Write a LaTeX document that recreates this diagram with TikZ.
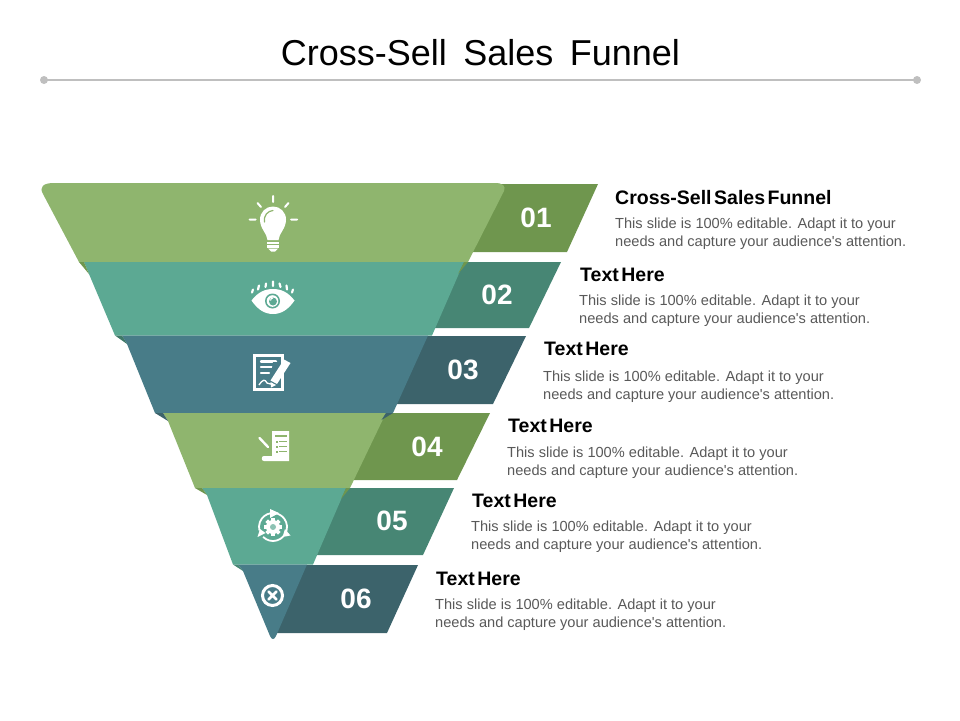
\documentclass[tikz,border=0pt]{standalone}
\usepackage{fontspec}
\setmainfont{Liberation Sans}[Ligatures=TeXOff]
\definecolor{bandA}{HTML}{8FB56E}
\definecolor{darkA}{HTML}{6F964E}
\definecolor{bandB}{HTML}{5CA993}
\definecolor{darkB}{HTML}{478674}
\definecolor{bandC}{HTML}{487C88}
\definecolor{darkC}{HTML}{3C636B}
\definecolor{bodygray}{HTML}{595959}
\definecolor{rulegray}{HTML}{BFBFBF}
\tikzset{
  titletext/.style={font=\fontsize{36}{40}\selectfont,text=black,inner sep=0pt},
  headtext/.style={font=\fontsize{19.5}{20}\selectfont\bfseries,text=black,anchor=west,inner sep=0pt},
  bodytext/.style={font=\fontsize{14.6}{18}\selectfont,text=bodygray,anchor=west,align=left,inner sep=0pt},
  numtext/.style={font=\fontsize{28}{30}\selectfont\bfseries,text=white,inner sep=0pt},
  iconline/.style={draw=white,line width=2pt,line cap=round,fill=none},
}
\newcommand{\bodycopy}{This slide is 100\% editable.\hspace{5.5pt}Adapt it to your\\needs and capture your audience's attention.}
\newcommand{\tinygap}{\hspace{2.5pt}}
\newcommand{\titlegap}{\hspace{16.5pt}}
\begin{document}
\begin{tikzpicture}[x=1pt,y=-1pt]
\useasboundingbox (0,0) rectangle (960,720);
% title and rule
\node[titletext] (title) at (480.5,53) {Cross-Sell\titlegap Sales\titlegap Funnel};
\fill[rulegray] (44,80) circle (4);
\fill[rulegray] (917,80) circle (4);
\coordinate (ruleL) at (44,80);
\coordinate (ruleR) at (917,80);
\draw[rulegray,line width=1.6pt] (ruleL) -- (ruleR);
% dark tabs
\fill[darkA] (490,184) -- (598,184) -- (567,252) -- (460,252) -- cycle;
\fill[darkB] (455,262) -- (561,262) -- (529,328) -- (425,328) -- cycle;
\fill[darkC] (420,336) -- (526,336) -- (493,404) -- (390,404) -- cycle;
\fill[darkA] (380,413) -- (490,413) -- (457,480) -- (352,480) -- cycle;
\fill[darkB] (340,488) -- (454,488) -- (423,555) -- (310,555) -- cycle;
\fill[darkC] (300,565) -- (418,565) -- (387,633) -- (273,633) -- cycle;
% bands
\fill[bandA] (54,183) -- (495,183) .. controls (503,183) and (506,186) .. (504,191) -- (468,262) -- (79,262) -- (43,194) .. controls (39,187) and (43,183) .. (54,183) -- cycle;
\fill[bandB] (84,262) -- (464,262) -- (432,335.5) -- (115,335.5) -- (89,274) -- cycle;
\fill[bandC] (122,335.5) -- (428,335.5) -- (393,413) -- (155,413) -- (127,344) -- cycle;
\fill[bandA] (163,413) -- (386,413) -- (350,488) -- (195,488) -- (168,421) -- cycle;
\fill[bandB] (202,488) -- (346,488) -- (313,564.5) -- (233,564.5) -- (207,495) -- cycle;
\fill[bandC] (238,564.5) -- (307,564.5) -- (276,636) .. controls (274,640) and (272,640) .. (270,636) -- (243,571) -- cycle;
% folds
\fill[darkA] (79,262) -- (84,262) -- (89,274) -- cycle;
\fill[darkB!90!black] (115,335.5) -- (122,335.5) -- (127,344) -- cycle;
\fill[darkC] (155,413) -- (163,413) -- (168,421) -- cycle;
\fill[darkA] (195,488) -- (202,488) -- (207,495) -- cycle;
\fill[darkB] (233,564.5) -- (238,564.5) -- (243,571) -- cycle;
\fill[darkA] (468,262) -- (464,262) -- (458,274) -- cycle;
\fill[darkC] (393,413) -- (386,413) -- (381.5,420) -- cycle;
\fill[darkA] (350,488) -- (346,488) -- (341,499) -- cycle;
% numbers
\node[numtext] (n1) at (536,218) {01};
\node[numtext] (n2) at (497,295) {02};
\node[numtext] (n3) at (463,370) {03};
\node[numtext] (n4) at (427,447) {04};
\node[numtext] (n5) at (392,521) {05};
\node[numtext] (n6) at (356,599) {06};
% text
\node[headtext] (h1) at (615,198) {Cross-Sell\tinygap Sales\tinygap Funnel};
\node[bodytext] (b1) at (615,233.5) {\bodycopy};
\node[headtext] (h2) at (580,275) {Text\tinygap Here};
\node[bodytext] (b2) at (579,310.5) {\bodycopy};
\node[headtext] (h3) at (544,349) {Text\tinygap Here};
\node[bodytext] (b3) at (543,386.5) {\bodycopy};
\node[headtext] (h4) at (508,426) {Text\tinygap Here};
\node[bodytext] (b4) at (507,462.5) {\bodycopy};
\node[headtext] (h5) at (472,501) {Text\tinygap Here};
\node[bodytext] (b5) at (471,536.5) {\bodycopy};
\node[headtext] (h6) at (436,579) {Text\tinygap Here};
\node[bodytext] (b6) at (435,614.5) {\bodycopy};
% icon 1: bulb
\draw[iconline] (273,196) -- (273,202) (249.5,219.5) -- (255.5,219.5) (291,219.5) -- (297,219.5)
  (257.5,203) -- (261,207) (288.5,203) -- (285,207);
\fill[white] (267.5,240) .. controls (267,233) and (260,229) .. (260,219.5) .. controls (260,212) and (266,206.5) .. (273,206.5) .. controls (280,206.5) and (286,212) .. (286,219.5) .. controls (286,229) and (279,233) .. (278.5,240) -- cycle;
\draw[bandA,line width=1.2pt,line cap=round] (264.5,222) .. controls (263.5,215) and (268,211) .. (273,210.5);
\fill[white] (267,241.5) rectangle (279,243.5);
\fill[white] (267,245) rectangle (279,247.5);
\fill[white] (268,248.5) -- (278,248.5) -- (275,251.5) -- (271,251.5) -- cycle;
% icon 2: eye
\fill[white] (251.5,300.5) .. controls (258,292) and (265,289) .. (273,289) .. controls (281,289) and (288,292) .. (294.5,300.5) .. controls (288,310) and (281,314) .. (273,314) .. controls (265,314) and (258,310) .. (251.5,300.5) -- cycle;
\fill[bandB] (272.5,301) circle (7.5);
\fill[white] (272.5,301) circle (5.8);
\fill[bandB] (273,301.5) circle (4);
\draw[white,line width=1pt] (270.5,300.5) arc (180:270:2.5);
\draw[white,line width=2.2pt,line cap=round] (253,289.5) -- (252,292.5) (259,285.5) -- (258,289.5)
  (266,283.5) -- (265.5,287) (273,281.5) -- (273,286) (279.5,283.5) -- (280.5,287) (286.5,285.5) -- (287,289.5) (293,289.5) -- (292,292.5);
% icon 3: document and pen
\draw[white,line width=3pt] (254.5,355.5) rectangle (282,389.5);
\draw[white,line width=2.4pt,line cap=round] (261,361.5) -- (276,361.5) (261,367) -- (276,367) (261,373) -- (269,373);
\draw[white,line width=1.3pt] (259,385) .. controls (263,379) and (265,379) .. (267,383) .. controls (269,385) and (271,383) .. (274,384);
\fill[bandC] (273,362) -- (280.5,362) -- (280.5,375) -- (274,386) -- (270,380) -- cycle;
\fill[white] (284,359.5) -- (290.5,363) -- (277,384) -- (270.5,380.5) -- cycle;
\fill[white] (270.5,382) -- (276,385) -- (271,387.5) -- cycle;
% icon 4: scroll and list
\fill[white] (272,431) -- (289,431) -- (289,461) -- (264,461) .. controls (261,461) and (261,456) .. (264,456) -- (272,456) -- cycle;
\fill[bandA] (274.5,434.5) rectangle (286.5,436.5);
\foreach \ya in {441,446,451}{
  \fill[bandA] (275.5,\ya) rectangle (277.5,\ya+1.8);
  \fill[bandA] (279,\ya+.3) rectangle (287,\ya+1.4);
}
\draw[white,line width=2.4pt,line cap=round] (259.5,438) -- (268,447);
% icon 5: cycle and gear
\draw[white,line width=1.8pt] (273,527) ++(-100:14) arc (-100:-195:14);
\draw[white,line width=1.8pt] (273,527) ++(-225:14) arc (-225:-320:14);
\draw[white,line width=1.8pt] (273,527) ++(-335:14) arc (-335:-440:14);
\fill[white] (270,509) -- (279,513) -- (270,518) -- cycle;
\fill[white] (257.5,537) -- (265.5,533) -- (260,529) -- cycle;
\fill[white] (285,529) -- (290.5,535.5) -- (282.5,537) -- cycle;
\foreach \ang in {0,45,...,315}{
  \fill[white,shift={(273,527)},rotate=\ang] (-1.8,-9) rectangle (1.8,0);
}
\fill[white] (273,527) circle (7);
\fill[bandB!70!white] (273,527) circle (3);
% icon 6: circled cross
\draw[white,line width=3pt] (272.5,595.5) circle (10);
\draw[white,line width=2.6pt,line cap=round] (268.5,591.5) -- (276.5,599.5) (276.5,591.5) -- (268.5,599.5);
\end{tikzpicture}
\end{document}
